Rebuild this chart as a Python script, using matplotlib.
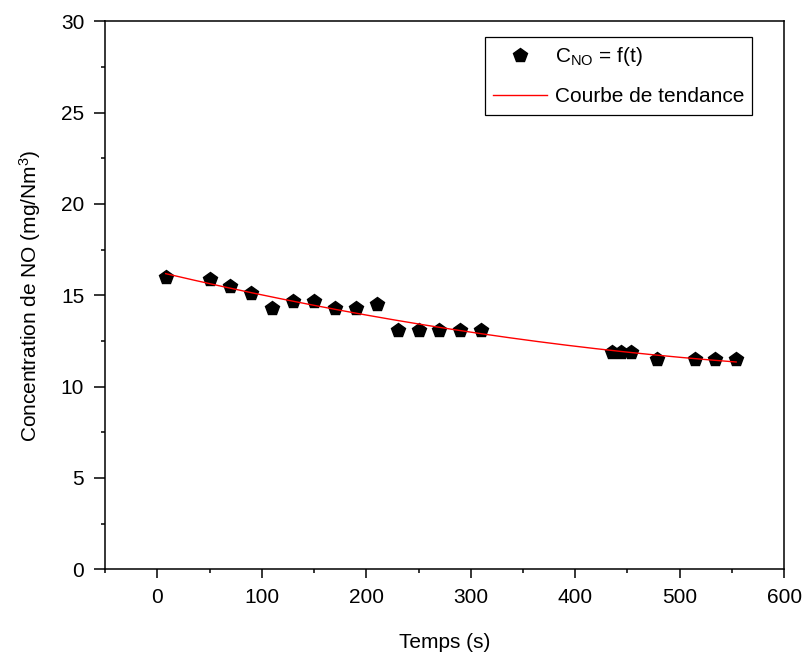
import numpy as np
import matplotlib.pyplot as plt
from matplotlib.ticker import MultipleLocator

plt.rcParams['font.family'] = ['Liberation Sans', 'DejaVu Sans']
plt.rcParams['mathtext.fontset'] = 'custom'
plt.rcParams['mathtext.rm'] = 'Liberation Sans'
plt.rcParams['mathtext.it'] = 'Liberation Sans'

# data
temps = [8, 50, 70, 90, 110, 130, 150, 170, 190, 210, 230, 250, 270, 290, 310,
         435, 444, 453, 478, 515, 534, 554]
conc_no = [16.0, 15.9, 15.5, 15.1, 14.3, 14.7, 14.7, 14.3, 14.3, 14.5, 13.1, 13.1, 13.1, 13.1, 13.1,
           11.9, 11.9, 11.9, 11.5, 11.5, 11.5, 11.5]

t = np.array(temps)
c = np.array(conc_no)

# trend curve (polynomial fit of the measurements)
coef = np.polyfit(t, c, 2)
t_fit = np.linspace(t.min(), t.max(), 200)
c_fit = np.polyval(coef, t_fit)

fig = plt.figure(figsize=(8.06, 6.56), dpi=100)
ax = fig.add_axes([0.1303, 0.1322, 0.8427, 0.8354])

ax.plot(t, c, 'p', color='black', markersize=10.5, label=r'C$_{\mathrm{NO}}$ = f(t)', zorder=3)
ax.plot(t_fit, c_fit, '-', color='red', linewidth=1.0, label='Courbe de tendance', zorder=4)

ax.set_xlim(-50, 600)
ax.set_ylim(0, 30)
ax.xaxis.set_major_locator(MultipleLocator(100))
ax.xaxis.set_minor_locator(MultipleLocator(50))
ax.yaxis.set_major_locator(MultipleLocator(5))
ax.yaxis.set_minor_locator(MultipleLocator(2.5))
ax.tick_params(which='both', direction='out', top=False, right=False, labelsize=15, width=1.1)
ax.tick_params(axis='x', which='major', length=6.5, pad=7)
ax.tick_params(axis='y', which='major', length=8, pad=7)
ax.tick_params(which='minor', length=3)
for s in ax.spines.values():
    s.set_linewidth(1.1)

ax.set_xlabel('Temps (s)', fontsize=15, labelpad=19)
ax.set_ylabel('Concentration de NO (mg/Nm$^3$)', fontsize=15, labelpad=13)

leg = ax.legend(loc='upper right', bbox_to_anchor=(0.953, 0.971), borderaxespad=0, fontsize=15,
                fancybox=False, edgecolor='black', framealpha=1, handlelength=2.6,
                handletextpad=0.35, borderpad=0.4, labelspacing=0.9)
leg.get_frame().set_linewidth(0.9)

plt.savefig('out.png', dpi=100)
